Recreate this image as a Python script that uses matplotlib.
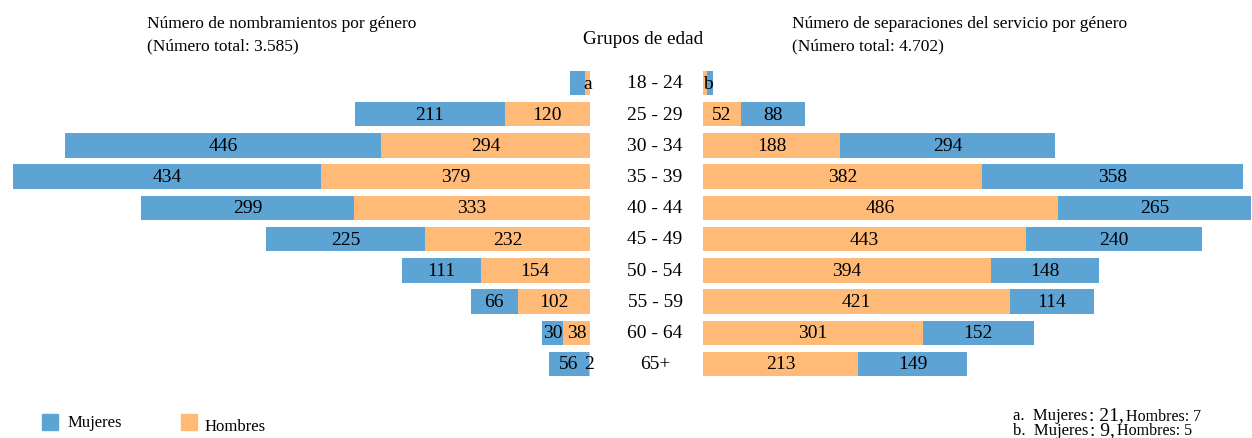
import matplotlib.pyplot as plt

# --- datos ---
grupos = ["18 - 24", "25 - 29", "30 - 34", "35 - 39", "40 - 44",
          "45 - 49", "50 - 54", "55 - 59", "60 - 64", "65+"]
nomb_mujeres = [21, 211, 446, 434, 299, 225, 111, 66, 30, 56]
nomb_hombres = [7, 120, 294, 379, 333, 232, 154, 102, 38, 2]
sep_mujeres = [9, 88, 294, 358, 265, 240, 148, 114, 152, 149]
sep_hombres = [5, 52, 188, 382, 486, 443, 394, 421, 301, 213]
etiq_nomb = ["a"] + [None] * 9
etiq_sep = ["b"] + [None] * 9

AZUL = "#5DA3D3"
NARANJA = "#FFBA77"

plt.rcParams["font.family"] = ["Liberation Serif", "DejaVu Serif"]

W, H = 1252, 439
fig = plt.figure(figsize=(W / 100, H / 100), dpi=100)

y0 = 1 - 380.6 / H
hh = (380.6 - 68.4) / H
ax_l = fig.add_axes([0, y0, 590 / W, hh])
ax_r = fig.add_axes([703 / W, y0, (W - 703) / W, hh])

ys = list(range(len(grupos)))
alto = 0.78

# izquierda: nombramientos (hacia la izquierda)
ax_l.barh(ys, [-v for v in nomb_hombres], height=alto, color=NARANJA)
ax_l.barh(ys, [-v for v in nomb_mujeres], left=[-v for v in nomb_hombres],
          height=alto, color=AZUL)
ax_l.set_xlim(-590 / 0.71, 0)

# derecha: separaciones
ax_r.barh(ys, sep_hombres, height=alto, color=NARANJA)
ax_r.barh(ys, sep_mujeres, left=sep_hombres, height=alto, color=AZUL)
ax_r.set_xlim(0, (W - 703) / 0.73)

for ax in (ax_l, ax_r):
    ax.set_ylim(len(grupos) - 0.5, -0.5)
    ax.axis("off")

fs = 14
for i in ys:
    m, h = nomb_mujeres[i], nomb_hombres[i]
    if etiq_nomb[i]:
        ax_l.text(3, i, etiq_nomb[i], ha="right", va="center", fontsize=fs)
    else:
        ax_l.text(-h / 2, i, str(h), ha="center", va="center", fontsize=fs)
        ax_l.text(-h - m / 2, i, str(m), ha="center", va="center", fontsize=fs)
    m, h = sep_mujeres[i], sep_hombres[i]
    if etiq_sep[i]:
        ax_r.text(0, i, etiq_sep[i], ha="left", va="center", fontsize=fs)
    else:
        ax_r.text(h / 2, i, str(h), ha="center", va="center", fontsize=fs)
        ax_r.text(h + m / 2, i, str(m), ha="center", va="center", fontsize=fs)

# grupos de edad en el centro
for i, g in enumerate(grupos):
    fig.text(655 / W, 1 - (84 + i * 31.2) / H, g, ha="center", va="center",
             fontsize=14)

# titulos
fig.text(147 / W, 1 - 16 / H,
         "Número de nombramientos por género\n(Número total: 3.585)",
         ha="left", va="top", fontsize=12.5, linespacing=1.55)
fig.text(792 / W, 1 - 16 / H,
         "Número de separaciones del servicio por género\n(Número total: 4.702)",
         ha="left", va="top", fontsize=12.5, linespacing=1.55)
fig.text(643 / W, 1 - 40 / H, "Grupos de edad", ha="center", va="center",
         fontsize=13.8)

# leyenda
fig.patches.append(plt.Rectangle((42 / W, 1 - 431 / H), 16 / W, 16 / H,
                                 color=AZUL, transform=fig.transFigure))
fig.text(68 / W, 1 - 423 / H, "Mujeres", va="center", fontsize=12)
fig.patches.append(plt.Rectangle((181 / W, 1 - 431 / H), 16 / W, 16 / H,
                                 color=NARANJA, transform=fig.transFigure))
fig.text(205 / W, 1 - 427 / H, "Hombres", va="center", fontsize=12)

# notas: trozos de distinto tamano, encadenados
renderer = fig.canvas.get_renderer()


def nota(y_px, trozos):
    x = 1013
    for txt, size, dy in trozos:
        t = fig.text(x / W, 1 - (y_px + dy) / H, txt, va="baseline",
                     fontsize=size)
        x = t.get_window_extent(renderer).x1 + 2


nota(420, [("a.  Mujeres", 12, 0), (": 21,", 14, 0), ("Hombres: 7", 11.5, 1)])
nota(435, [("b.  Mujeres", 12, 0), (": 9,", 14, 0), ("Hombres: 5", 11.5, 0.5)])

fig.savefig("out.png", dpi=100)
